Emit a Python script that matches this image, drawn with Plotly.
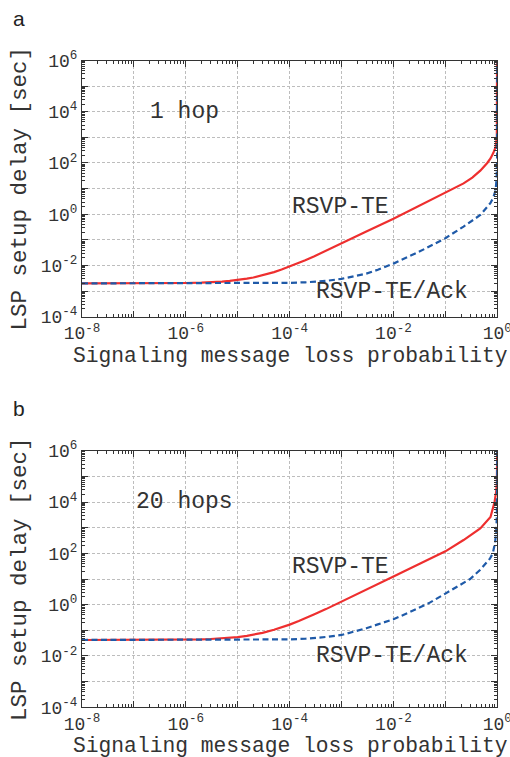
import plotly.graph_objects as go

# ---------------- data ----------------
# panel a (1 hop)
p_a_te = [1e-8, 1e-7, 1e-6, 2e-6, 3e-6, 5e-6, 7e-6, 1e-5, 1.5e-5, 2e-5, 3e-5, 5e-5, 7e-5, 1e-4, 1.5e-4, 2e-4, 3e-4,
          5e-4, 1e-3, 3e-3, 1e-2, 3e-2, 5e-2, 1e-1, 0.155, 0.224, 0.33, 0.47, 0.64, 0.74, 0.84, 0.927, 0.98,
          0.99, 0.995, 0.9995]
d_a_te = [2.0e-3, 2.0e-3, 2.07e-3, 2.14e-3, 2.2e-3, 2.35e-3, 2.5e-3, 2.7e-3, 3.05e-3, 3.4e-3, 4.1e-3, 5.5e-3, 6.9e-3,
          9.0e-3, 0.0125, 0.016, 0.023, 0.037, 0.072, 0.21, 0.66, 2.0, 3.4, 6.7, 10.4, 16, 27, 50, 100, 150, 250,
          417, 1.0e3, 1e4, 1e6, 1e10]
p_a_ack = [1e-8, 1e-6, 1e-5, 3e-5, 1e-4, 2e-4, 3e-4, 5e-4, 1e-3, 2e-3, 3e-3, 5e-3, 1e-2, 3e-2, 5e-2, 1e-1,
           0.224, 0.47, 0.74, 0.84, 0.93, 0.97, 0.99, 0.995, 0.999, 0.9999]
d_a_ack = [2.0e-3, 2.0e-3, 2.01e-3, 2.03e-3, 2.1e-3, 2.2e-3, 2.3e-3, 2.5e-3, 3.0e-3, 4.0e-3, 4.8e-3, 6.8e-3, 0.0118,
           0.033, 0.055, 0.116, 0.33, 0.93, 2.76, 4.6, 8.9, 25, 150, 1e3, 1e5, 1e10]

# panel b (20 hops)
p_b_te = [1e-8, 1e-7, 1e-6, 2e-6, 3e-6, 5e-6, 7e-6, 1e-5, 1.5e-5, 2e-5, 3e-5, 5e-5, 7e-5, 1e-4, 1.5e-4, 2e-4, 3e-4,
          5e-4, 1e-3, 3e-3, 5.4e-3, 1e-2, 3.2e-2, 1e-1, 0.224, 0.47, 0.74, 0.886, 0.95, 0.98, 0.995, 0.9995]
d_b_te = [0.042, 0.042, 0.0433, 0.0445, 0.0458, 0.0483, 0.051, 0.0545, 0.061, 0.067, 0.08, 0.105, 0.13, 0.167, 0.23,
          0.29, 0.42, 0.67, 1.3, 3.8, 6.9, 12.6, 39, 120, 330, 940, 2600, 1e4, 2.5e4, 5e4, 1e6, 1e10]
p_b_ack = [1e-8, 1e-6, 1e-5, 1e-4, 2e-4, 3e-4, 5e-4, 1e-3, 2e-3, 3e-3, 5e-3, 1e-2, 2e-2, 3e-2, 5e-2, 1e-1,
           0.3, 0.47, 0.72, 0.82, 0.9, 0.95, 0.98, 0.995, 0.9999]
d_b_ack = [0.042, 0.042, 0.042, 0.0443, 0.047, 0.05, 0.055, 0.066, 0.093, 0.12, 0.17, 0.27, 0.5, 0.74, 1.2, 2.7,
           10, 23, 62, 100, 245, 600, 3e3, 1e5, 1e10]

x_label_vals = [1e-8, 1e-6, 1e-4, 1e-2, 1e0]
x_label_text = ["10<sup>-8</sup>", "10<sup>-6</sup>", "10<sup>-4</sup>", "10<sup>-2</sup>", "10<sup>0</sup>"]
x_odd_decades = [1e-7, 1e-5, 1e-3, 1e-1]
y_label_vals = [1e-4, 1e-2, 1e0, 1e2, 1e4, 1e6]
y_label_text = ["10<sup>-4</sup>", "10<sup>-2</sup>", "10<sup>0</sup>", "10<sup>2</sup>", "10<sup>4</sup>", "10<sup>6</sup>"]
y_odd_decades = [1e-3, 1e-1, 1e1, 1e3, 1e5]
x_decade_exps = list(range(-8, 0))
y_decade_exps = list(range(-4, 6))
sub_digits = [2, 3, 4, 5, 6, 7, 8, 9]

panel_letters = ["a", "b"]
hop_labels = ["1 hop", "20 hops"]
series_names = ["RSVP-TE", "RSVP-TE/Ack"]
x_title = "Signaling message loss probability"
y_title = "LSP setup delay [sec]"

RED = "#ee2f2f"
BLUE = "#1f5aa8"
TXT = "#333333"
AX = "#333333"
GRID = "#bdbdbd"
MONO = "Liberation Mono, Courier New, monospace"
W, H = 510, 757

x_minor_vals = [d * 10 ** e for e in x_decade_exps for d in sub_digits]
y_minor_vals = [d * 10 ** e for e in y_decade_exps for d in sub_digits]

x_dom = [82 / W, 497.3 / W]
tops = [60.5, 450.7]
bots = [316.7, 707.3]
y_doms = [[1 - bots[i] / H, 1 - tops[i] / H] for i in range(2)]

fig = go.Figure()

panels = [
    (p_a_te, d_a_te, p_a_ack, d_a_ack),
    (p_b_te, d_b_te, p_b_ack, d_b_ack),
]


def key(a):
    return ("xaxis" if a.startswith("x") else "yaxis") + a[1:]


layout_axes = {}
for i, (pt, dt, pa, da) in enumerate(panels):
    xm, ym = ("x", "y") if i == 0 else ("x2", "y2")
    xo, yo = ("x3", "y3") if i == 0 else ("x4", "y4")
    # invisible trace so the fine-tick overlay axes are drawn
    fig.add_trace(go.Scatter(x=[1e-8], y=[1e-4], mode="markers", marker=dict(opacity=0),
                             xaxis=xo, yaxis=yo, showlegend=False, hoverinfo="skip"))
    fig.add_trace(go.Scatter(x=pt, y=dt, mode="lines", name=series_names[0],
                             line=dict(color=RED, width=2.2), xaxis=xm, yaxis=ym,
                             showlegend=False))
    fig.add_trace(go.Scatter(x=pa, y=da, mode="lines", name=series_names[1],
                             line=dict(color=BLUE, width=2.2, dash="6px,3.5px"), xaxis=xm, yaxis=ym,
                             showlegend=False))

    main_common = dict(
        type="log", showline=True, linecolor=AX, linewidth=1, mirror="allticks",
        ticks="inside", ticklen=6, tickcolor=AX, tickwidth=1,
        showgrid=True, gridcolor=GRID, griddash="3px,2px", gridwidth=1,
        zeroline=False, automargin=False, ticklabeloverflow="allow",
        tickfont=dict(family=MONO, size=18, color=TXT),
    )
    layout_axes[key(xm)] = dict(
        **main_common, range=[-8, 0], domain=x_dom, anchor=ym,
        tickmode="array", tickvals=x_label_vals, ticktext=x_label_text,
        minor=dict(tickmode="array", tickvals=x_odd_decades, ticks="inside", ticklen=6,
                   tickcolor=AX, showgrid=True, gridcolor=GRID, griddash="3px,2px", gridwidth=1),
    )
    layout_axes[key(ym)] = dict(
        **main_common, range=[-4, 6], domain=y_doms[i], anchor=xm,
        tickmode="array", tickvals=y_label_vals, ticktext=y_label_text,
        minor=dict(tickmode="array", tickvals=y_odd_decades, ticks="inside", ticklen=6,
                   tickcolor=AX, showgrid=True, gridcolor=GRID, griddash="3px,2px", gridwidth=1),
    )
    fine_common = dict(
        type="log", showline=False, mirror="allticks", ticks="inside", ticklen=3,
        tickcolor=AX, tickwidth=1, showgrid=False, zeroline=False, showticklabels=False,
        automargin=False, tickmode="array",
    )
    layout_axes[key(xo)] = dict(**fine_common, range=[-8, 0], domain=x_dom, anchor=ym,
                                overlaying=xm, tickvals=x_minor_vals)
    layout_axes[key(yo)] = dict(**fine_common, range=[-4, 6], domain=y_doms[i], anchor=xm,
                                overlaying=ym, tickvals=y_minor_vals)

fig.update_layout(**layout_axes)

ann = []
for i in range(2):
    ann.append(dict(text=panel_letters[i], xref="paper", yref="paper",
                    x=11 / W, y=1 - (tops[i] - 42) / H, xanchor="left", yanchor="middle",
                    showarrow=False, font=dict(family="Liberation Sans, Arial", size=21, color="#222")))
    ann.append(dict(text=y_title, xref="paper", yref="paper", textangle=-90,
                    x=20 / W, y=1 - (tops[i] + bots[i]) / 2 / H, xanchor="center", yanchor="middle",
                    showarrow=False, font=dict(family=MONO, size=22.5, color=TXT)))
    ann.append(dict(text=x_title, xref="paper", yref="paper",
                    x=290 / W, y=1 - (bots[i] + 39) / H, xanchor="center", yanchor="middle",
                    showarrow=False, font=dict(family=MONO, size=21.3, color=TXT)))

label_pos = [
    [(hop_labels[0], -6.02, 4.0), (series_names[0], -3.02, 0.29), (series_names[1], -2.02, -3.04)],
    [(hop_labels[1], -6.02, 4.0), (series_names[0], -3.02, 1.48), (series_names[1], -2.02, -2.0)],
]
for i in range(2):
    xr, yr = ("x", "y") if i == 0 else ("x2", "y2")
    for txt, lx, ly in label_pos[i]:
        ann.append(dict(text=txt, xref=xr, yref=yr, x=lx, y=ly, showarrow=False,
                        xanchor="center", yanchor="middle",
                        font=dict(family=MONO, size=23, color=TXT)))

fig.update_layout(
    width=W, height=H, margin=dict(l=0, r=0, t=0, b=0),
    paper_bgcolor="white", plot_bgcolor="white",
    annotations=ann, showlegend=False,
)

fig.write_html("out.html")
